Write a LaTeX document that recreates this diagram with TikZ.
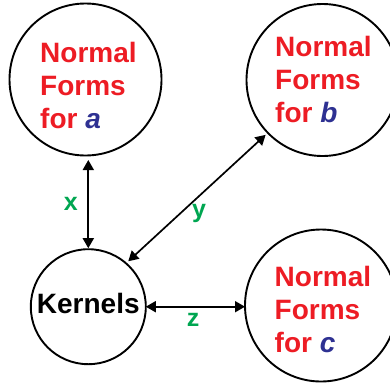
\documentclass[tikz,border=0pt]{standalone}
\usepackage{fontspec}
\setmainfont{Liberation Sans}
\usetikzlibrary{arrows.meta}
\definecolor{nfred}{RGB}{237,28,36}
\definecolor{nfblue}{RGB}{46,49,146}
\definecolor{lblgreen}{RGB}{0,166,81}
\begin{document}
\begin{tikzpicture}[x=1pt,y=-1pt,
  ring/.style={circle,draw=black,line width=1.9pt,inner sep=0pt,outer sep=0pt},
  bigring/.style={ring,minimum size=152pt},
  nftext/.style={anchor=north west,inner sep=0pt,align=left,text=nfred,
    font=\fontsize{28}{33}\selectfont\bfseries},
  lbl/.style={anchor=base,inner sep=0pt,text=lblgreen,
    font=\fontsize{25}{30}\selectfont\bfseries},
  link/.style={line width=1.7pt,
    {Triangle[length=10pt,width=11pt]}-{Triangle[length=10pt,width=11pt]}}]
  \useasboundingbox (0,0) rectangle (390,383);

  % the four circles
  \node[bigring] (a) at (85.5,79.5) {};
  \node[bigring] (b) at (322.5,80) {};
  \node[bigring] (c) at (321,305.5) {};
  \node[ring,minimum size=115pt,text depth=6pt,
        font=\fontsize{28}{33}\selectfont\bfseries] (k) at (88.3,306.7) {Kernels};

  % circle captions
  \node[nftext] (ta) at (40,41.7) {Normal\\Forms\\for {\color{nfblue}\itshape a}};
  \node[nftext] (tb) at (275,36) {Normal\\Forms\\for {\color{nfblue}\itshape b}};
  \node[nftext] (tc) at (274.5,266) {Normal\\Forms\\for {\color{nfblue}\itshape c}};

  % connectors
  \draw[link,shorten <=4.5pt,shorten >=1pt] (a.south -| k.north) -- (k.north);
  \draw[link,shorten <=3pt,shorten >=3pt] (k.49.6) -- (b.224);
  \draw[link] (k.east) -- (k.east -| c.west);

  % connector labels
  \node[lbl] (lx) at (70.8,210) {x};
  \node[lbl] (ly) at (199,217.3) {y};
  \node[lbl] (lz) at (193,326.7) {z};
\end{tikzpicture}
\end{document}
